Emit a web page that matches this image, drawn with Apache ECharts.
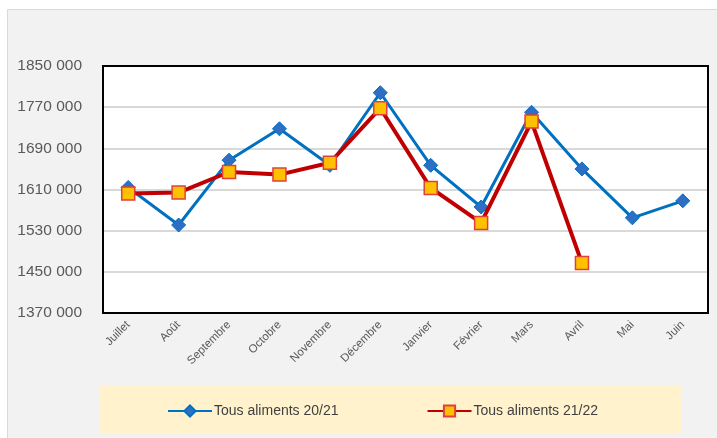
<!DOCTYPE html>
<html><head><meta charset="utf-8">
<script src="https://cdn.jsdelivr.net/npm/echarts@6/dist/echarts.min.js"></script>
<style>html,body{margin:0;padding:0;background:#fff}#c{width:717px;height:438px}</style>
</head><body><div id="c"></div>
<script>
const categories = ['Juillet','Août','Septembre','Octobre','Novembre','Décembre','Janvier','Février','Mars','Avril','Mai','Juin'];
const serie2021 = [1614000,1541000,1667000,1728000,1657000,1798000,1657000,1576000,1760000,1650000,1555000,1588000];
const serie2122 = [1602000,1604000,1644000,1639000,1662000,1768000,1613000,1545000,1742000,1467000];
const seriesNames = ['Tous aliments 20/21','Tous aliments 21/22'];
const yMin = 1370000, yMax = 1850000, yStep = 80000;

const chart = echarts.init(document.getElementById('c'));
const fmt = v => { const s = String(v); return s.slice(0, s.length-3) + ' ' + s.slice(-3); };
chart.setOption({
  animation: false,
  backgroundColor: '#ffffff',
  graphic: [
    {type:'rect', shape:{x:7.5, y:9.5, width:712, height:431}, style:{fill:'#f2f2f2', stroke:'#d9d9d9', lineWidth:1}, z:-10},
    {type:'rect', shape:{x:100, y:385, width:581, height:49}, style:{fill:'#fff2cc'}, z:-5},
    {type:'rect', shape:{x:103, y:66, width:605, height:247}, style:{fill:null, stroke:'#000000', lineWidth:2}, z:1}
  ],
  grid: {left:103, top:66, right:9, bottom:125, show:true, backgroundColor:'#ffffff', borderWidth:0},
  legend: {
    top: 399, left: 162, itemGap: 88, itemWidth: 44, itemHeight: 14,
    textStyle: {fontFamily:'Liberation Sans', fontSize:14, color:'#404040', padding:[0,0,0,-3]},
    data: seriesNames
  },
  xAxis: {
    type:'category', data: categories, boundaryGap:true,
    axisLine:{show:false}, axisTick:{show:false},
    axisLabel:{rotate:45, color:'#595959', fontFamily:'Liberation Sans', fontSize:11.5, margin:10, interval:0}
  },
  yAxis: {
    type:'value', min:yMin, max:yMax, interval:yStep,
    axisLine:{show:false}, axisTick:{show:false},
    splitLine:{lineStyle:{color:'#d9d9d9', width:2}},
    axisLabel:{formatter: fmt, color:'#595959', fontFamily:'Liberation Sans', fontSize:15.5, margin:21}
  },
  series: [
    {name: seriesNames[0], type:'line', data: serie2021, symbol:'diamond', symbolSize:14,
     lineStyle:{color:'#0070c0', width:3}, itemStyle:{color:'#2e6fc4', borderColor:'#0070c0', borderWidth:1}, z:2},
    {name: seriesNames[1], type:'line', data: serie2122, symbol:'rect', symbolSize:13,
     lineStyle:{color:'#c00000', width:4}, itemStyle:{color:'#ffc000', borderColor:'#e0403a', borderWidth:1.5}, z:3}
  ]
});
</script></body></html>
